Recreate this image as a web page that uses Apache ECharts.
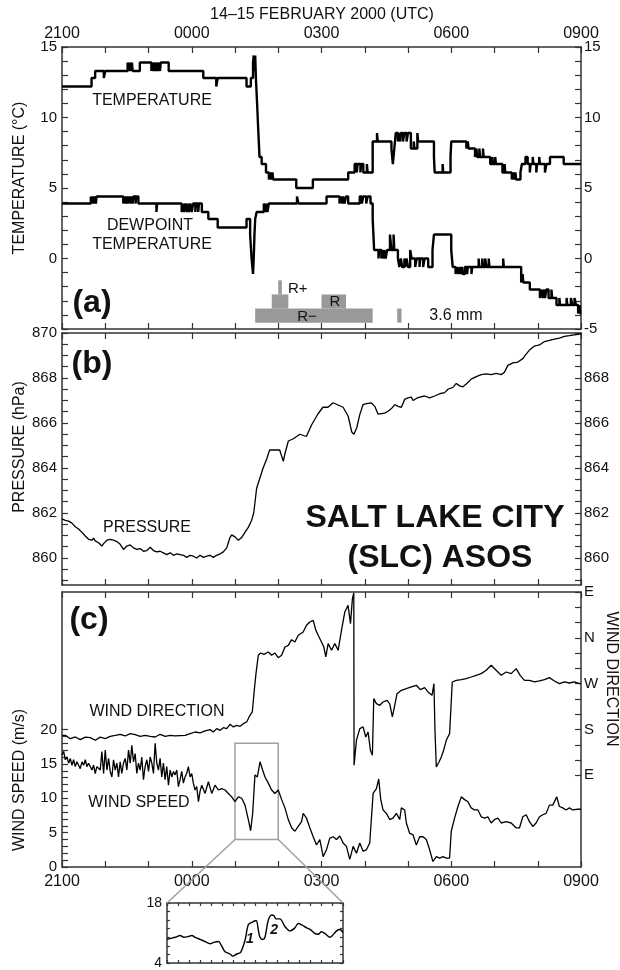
<!DOCTYPE html>
<html>
<head>
<meta charset="utf-8">
<script src="https://cdn.jsdelivr.net/npm/echarts@6/dist/echarts.min.js"></script>
<style>
html,body{margin:0;padding:0;background:#fff}
#chart{width:620px;height:970px}
</style>
</head>
<body>
<div id="chart"></div>
<script>
// Time is minutes after 2100 UTC on 14 Feb 2000 (0..720 = 2100..0900).

// (a) temperature and dewpoint, step changes [minute, degC]
const tempC = [
  [0,12.2],[41,12.8],[46,13.3],[58,12.8],[60,13.3],
  [91,13.9],[92,13.3],[94,13.9],[95,13.3],[97,13.9],[98,13.3],
  [108,13.9],[124,13.3],[125,13.9],[127,13.3],[128,13.9],[130,13.3],[131,13.9],[133,13.3],[134,13.9],[136,13.3],[137,13.9],
  [148,13.3],[196,12.8],[214,12.2],[216,12.8],[256,12.2],[262,12.8],
  [265,13.9],[266,14.4],[267,13.3],[268,14.4],[269,12.8],
  [270,11.7],[271,10.6],[272,9.4],[273,8.3],[274,7.2],[277,6.7],[283,6.1],[287,5.6],[289,6.1],[290,5.6],[292,6.1],[293,5.6],
  [325,5.0],[348,5.6],[397,6.1],[406,6.7],[409,6.1],[410,6.7],[414,6.1],[415,6.7],[418,6.1],[423,6.7],[424,6.1],
  [431,8.3],[437,8.9],[438,8.3],[457,7.8],[459,6.7],[461,7.8],[463,8.9],
  [466,8.3],[467,8.9],[469,8.3],[470,8.9],[473,8.3],[475,8.9],[478,8.3],[480,8.9],
  [484,7.8],[488,8.3],[489,7.8],[493,8.9],[494,8.3],[516,7.2],[517,6.1],[528,6.7],[529,6.1],
  [539,7.2],[540,8.3],[561,7.8],[563,8.3],[564,7.8],
  [573,7.2],[575,7.8],[576,7.2],[579,7.8],[580,7.2],[584,7.8],[585,7.2],
  [594,6.7],[597,7.2],[598,6.7],[601,7.2],[602,6.7],[611,6.1],[614,6.7],[615,6.1],
  [624,5.6],[626,6.1],[627,5.6],[629,6.1],[630,5.6],[636,6.1],[638,6.7],[643,7.2],
  [646,6.7],[649,6.1],[650,6.7],[653,7.2],[654,6.7],[658,6.1],[659,6.7],[662,7.2],[663,6.7],
  [670,6.1],[672,6.7],[677,7.2],[696,6.7],[720,6.7]
];
const dewC = [
  [0,3.9],[40,4.4],[41,3.9],[42,4.4],[44,3.9],[45,4.4],[47,3.9],[48,4.4],
  [85,3.9],[87,4.4],[88,3.9],[90,4.4],[91,3.9],[93,4.4],[95,3.9],[96,4.4],[98,3.9],[99,4.4],[102,3.9],[103,4.4],
  [106,3.9],[131,3.3],[132,3.9],
  [166,3.3],[168,3.9],[169,3.3],[171,3.9],[173,3.3],[174,3.9],[176,3.3],[178,3.9],[180,3.3],[182,3.9],[185,3.3],[186,3.9],[189,3.3],[190,3.9],
  [194,3.3],[203,2.8],[216,2.2],[256,2.8],
  [261,1.7],[263,0],[265,-1.1],[266,0],[267,1.7],[268,2.8],[270,3.3],
  [280,3.9],[282,3.3],[284,3.9],[285,3.3],[287,3.9],[326,4.4],[328,3.9],
  [367,4.4],[385,3.9],[387,4.4],[389,3.9],[390,4.4],[392,3.9],[394,4.4],[397,3.9],
  [413,4.4],[416,3.9],[418,4.4],[422,3.9],[424,4.4],[428,3.9],
  [431,2.8],[432,1.7],[433,0.6],
  [439,0],[440,0.6],[443,0],[444,0.6],[446,0],[447,0.6],[449,0],[451,0.6],
  [455,1.7],[457,0.6],[460,1.7],[461,0.6],
  [466,0],[468,-0.6],[470,0],[472,-0.6],[475,0],[476,-0.6],[478,0],[480,-0.6],
  [483,0.6],[485,0],[490,-0.6],[492,0],[496,-0.6],[497,0],[501,-0.6],[503,0],
  [508,-0.6],[514,0.6],[516,1.7],[540,0.6],[542,-0.6],
  [546,-1.1],[548,-0.6],[550,-1.1],[552,-0.6],[553,-1.1],[555,-0.6],[556,-1.1],[559,-0.6],[562,-1.1],[563,-0.6],[568,-1.1],[569,-0.6],
  [578,0],[579,-0.6],[583,0],[584,-0.6],[587,0],[589,-0.6],[592,0],[593,-0.6],
  [612,0],[613,-0.6],[637,-1.7],[639,-1.1],[640,-1.7],[649,-2.2],
  [663,-2.8],[665,-2.2],[667,-2.8],[669,-2.2],[670,-2.8],[672,-2.2],[675,-2.8],[679,-2.2],[680,-2.8],
  [686,-3.3],[690,-2.8],[691,-3.3],[700,-2.8],[701,-3.3],[706,-2.8],[708,-3.3],[711,-2.8],[713,-3.3],
  [716,-3.9],[718,-3.3],[719,-3.9],[720,-3.9]
];

// Rain periods [start, end] by intensity (R-, R, R+)
const rainLight = [[268,431],[465,471]];
const rainModerate = [[291,314],[360,394]];
const rainHeavy = [[300,305]];

// (b) station pressure [minute, hPa]
const pressHpa = [
  [0,861.74],[4.6,861.67],[9.2,861.64],[13.8,861.55],[18.4,861.39],[23,861.29],[27.7,861.14],[32.3,860.98],[36.9,860.83],[41.5,860.79],
  [43.8,860.88],[46.1,860.76],[50.7,860.68],[55.3,860.53],[57.7,860.64],[62.3,860.79],[66.9,860.83],[71.5,860.79],[76.1,860.73],[80.7,860.61],
  [85.3,860.38],[90,860.53],[94.6,860.58],[99.2,860.45],[103.8,860.38],[108.4,860.42],[113,860.3],[117.7,860.33],[122.3,860.48],[126.9,860.33],
  [131.5,860.27],[136.1,860.3],[140.7,860.23],[145.3,860.15],[150,860.23],[154.6,860.12],[159.2,860.18],[163.8,860.15],[168.4,860.12],[173,860.03],
  [177.7,860.12],[182.3,860.08],[186.9,860.0],[191.5,860.12],[196.1,860.03],[200.8,860.08],[205.4,860.12],[210,860.03],[214.6,860.12],[219.2,860.18],
  [223.8,860.27],[228.5,860.45],[233,860.91],[235.4,861.03],[240,860.94],[244.6,860.79],[249.2,860.91],[253.8,861.14],[258.4,861.36],[263,861.67],
  [266,862.0],[270,863.1],[274,863.5],[279,864.0],[284,864.4],[288,864.8],[295,864.8],[302,864.8],[307,864.3],[309,864.6],
  [314,865.2],[321,865.3],[330,865.5],[339,865.4],[346,865.9],[355,866.4],[362,866.7],[369,866.7],[376,866.9],[383,866.8],
  [390,866.7],[397,866.3],[402,865.6],[405,865.5],[409,865.8],[413,866.36],[417.7,866.82],[422.3,866.86],[429.3,866.89],[431.6,866.97],
  [433.9,866.74],[438.5,866.39],[440.8,866.36],[447.7,866.44],[452.3,866.52],[457,866.64],[461.6,866.82],[466.2,866.74],[470.8,866.7],[475.4,867.05],
  [480,867.12],[484.6,867.15],[487,867.0],[491.6,867.09],[496.2,867.15],[503.1,867.2],[510,867.12],[517,867.2],[523.9,867.3],[530.8,867.35],
  [535.4,867.5],[542.3,867.58],[547,867.76],[551.6,867.65],[556.2,867.61],[560.8,867.73],[567.7,867.95],[574.7,868.06],[581.6,868.15],[588.5,868.18],
  [595.4,868.15],[602.4,868.21],[609.3,868.15],[613.9,868.26],[618.5,868.56],[625.4,868.67],[632.4,868.71],[639.3,868.86],[643.9,869.06],[648.5,869.24],
  [655.4,869.42],[662.4,869.47],[669.3,869.62],[676.2,869.67],[683.1,869.73],[690,869.77],[697,869.85],[703.9,869.88],[710.8,869.92],[717.8,869.95],
  [720,869.97]
];

// (c) wind direction [minute, deg; 90=E 180=S 270=W 360=N 450=E]
const windDirDeg = [
  [0,168.6],[4.6,168.6],[11.5,162],[18.5,165.3],[25.4,160],[32.3,165],[39.2,164],[46.2,158.8],[53.1,165],[60,162],
  [66.9,166.6],[73.9,168.6],[80.8,170.6],[87.7,167.3],[94.6,171.9],[101.5,169.9],[108.5,166.6],[115.4,168.6],[122.3,166.6],[129.2,165.3],
  [136.2,170.6],[143.1,166.6],[150,168.6],[156.9,167.3],[163.9,168],[170.8,168.6],[177.7,171.9],[184.6,175.1],[191.6,173.2],[198.5,177.1],
  [205.4,179.7],[210,175.1],[214.6,181.7],[219.3,178.4],[223.9,183.6],[228.5,181.7],[233.1,190.2],[237.7,185],[242.3,188.2],[247,186.3],
  [251.6,191.5],[256.2,194.8],[260.8,207.9],[264,214.4],[266.3,250.4],[269.1,289.7],[272.3,325.7],[275.6,330.2],[280.2,327.6],[286.2,332.2],
  [290.8,325.7],[295.4,330.2],[300,320.9],[304.7,325.7],[309.3,342],[313.9,345.3],[318.5,356.4],[323.1,351.8],[327.7,365],[330,368.2],
  [334.6,371.5],[339.2,384.6],[343.8,391.1],[348.5,394.4],[352.2,374.7],[355.4,365],[360,351.8],[363.2,342],[366,322.4],[369.2,348.6],
  [373.9,335.5],[378.5,348.6],[383.1,335.5],[387.7,374.7],[392.3,410.7],[396.9,423.8],[400.2,387.8],[402.9,436.9],[404.8,448],[405.2,109.7],
  [408.5,158.8],[413.1,181.7],[417.7,185],[421.4,165.3],[424.6,175.1],[427.9,139.1],[430.6,129.3],[432.5,240.6],[436.2,230.8],[440.8,227.5],
  [445.4,234],[450.9,237.3],[454.6,230.8],[458.3,204.6],[461.6,227.5],[464.8,250.4],[470.8,257],[477.7,260.2],[484.6,263.5],[491.6,266.8],
  [497.1,258.3],[503.1,262.2],[507.7,253.7],[513.3,247.1],[516,270],[517.4,178.4],[519.3,106.4],[523,116.2],[526.2,126],[529.4,139.1],
  [533.1,158.8],[537.7,171.9],[541.4,273.3],[547,276.6],[553.9,277.9],[560.8,279.9],[567.7,283.1],[574.6,286.4],[581.6,289.7],[588.5,296.2],
  [595.4,306],[602.3,296.2],[609.3,286.4],[616.2,292.9],[623.1,289.7],[630,299.5],[635.6,286.4],[641.6,276.6],[648.5,276.6],[655.4,273.3],
  [662.4,275.3],[669.3,277.9],[676.2,281.9],[683.1,275.3],[690,270],[697,273.3],[703.9,271.3],[710.8,273.3],[717.7,270],[720,270]
];

// (c) wind speed [minute, m/s]
const windSpeed = [
  [0,16.3],[2.3,16.8],[4.6,15.6],[6.9,16.0],[9.2,15.1],[11.5,15.8],[13.8,14.8],[16.1,15.6],[18.4,14.6],[20.7,15.3],
  [23,15.1],[25.3,14.3],[27.7,15.3],[30,14.8],[32.3,15.6],[34.6,14.6],[36.9,15.1],[39.2,15.3],[41.5,14.1],[43.8,14.8],
  [46.1,13.6],[48.4,14.6],[50.7,14.8],[53,14.1],[55.3,16.8],[57.7,13.6],[60,17.0],[62.3,14.1],[64.6,15.8],[66.9,13.9],
  [69.2,13.1],[71.5,15.6],[73.8,14.1],[76.1,15.1],[78.4,13.1],[80.7,15.3],[83,13.6],[85.3,15.1],[87.7,15.8],[90,14.1],
  [92.3,17.0],[94.6,15.1],[96.9,17.7],[99.2,15.3],[101.5,16.5],[103.8,13.6],[106.1,15.1],[108.4,14.1],[110.7,16.0],[113,12.7],
  [115.3,14.6],[117.7,15.6],[120,13.9],[122.3,16.0],[124.6,15.1],[126.9,13.6],[129.2,18.0],[131.5,15.1],[133.8,14.1],[136.1,15.8],
  [138.4,13.1],[140.7,15.1],[143,12.7],[145.3,14.6],[147.7,11.9],[150,14.1],[152.3,13.1],[154.6,13.9],[156.9,13.4],[159.2,14.1],
  [161.5,11.7],[163.8,12.7],[166.1,13.9],[168.4,12.2],[170.7,13.1],[173,13.6],[175.3,14.6],[177.7,13.1],[180,13.6],[182.2,12.2],
  [184.6,11.2],[186.9,11.7],[189.3,9.5],[191.5,11.0],[193.9,11.9],[198.5,10.7],[203.1,12.4],[207.7,10.7],
  [212.3,11.9],[217,11.2],[221.6,11.4],[226.2,11.2],[230.8,10.7],[235.4,10.2],[240,9.5],[244.6,10.2],[249.3,10.0],[253.9,9.0],
  [258.5,6.9],[261.7,5.3],[264.5,7.8],[267.7,13.4],[271,13.1],[274.7,15.3],[278.3,14.1],[281.6,13.1],[286.2,12.2],[290.8,11.2],
  [295.4,10.7],[300,11.2],[304.7,9.8],[309.3,8.6],[313.9,6.9],[318.5,5.7],[323.1,5.2],[327.7,5.9],[332.3,6.6],[334.6,7.8],
  [339.2,7.1],[343.8,5.7],[348.5,4.4],[353.1,3.2],[357.7,4.0],[362.3,1.5],[366.9,2.5],[371.5,4.2],[376.2,4.4],[380.8,4.0],
  [385.4,4.5],[390,3.5],[394.6,3.0],[399.2,1.1],[403.9,3.0],[408.5,2.0],[413.1,3.5],[417.7,2.3],[422.3,2.5],[426.9,3.5],
  [431.6,10.7],[436.2,11.4],[439.4,12.8],[442.2,9.8],[445.4,8.3],[450,7.8],[454.6,6.9],[459.2,7.1],[463.9,7.8],[468.5,6.9],
  [470.8,8.6],[475.4,8.3],[477.7,6.4],[482.3,4.9],[486.9,4.7],[491.6,3.2],[496.2,4.4],[500.8,4.4],[505.4,4.0],[510,2.5],
  [514.6,0.8],[519.3,1.5],[523.9,1.3],[528.5,1.5],[533.1,1.3],[537.7,1.3],[540,5.2],[544.6,7.1],[549.3,8.8],[553.9,10.2],
  [558.5,9.8],[563.1,9.5],[567.7,8.6],[572.3,8.3],[577,8.3],[581.6,7.3],[586.2,7.1],[590.8,7.3],[595.4,6.4],[600,6.9],
  [604.7,7.1],[609.3,6.4],[616.2,6.6],[623.1,6.4],[630,5.7],[634.7,5.7],[639.3,7.3],[643.9,7.6],[648.5,6.6],[653.1,5.9],
  [657.7,6.4],[662.4,7.3],[667,7.6],[671.6,7.8],[676.2,9.0],[680.8,9.0],[686.4,10.2],[690,8.8],[694.7,8.6],[699.3,8.3],
  [703.9,8.6],[708.5,8.3],[715.4,8.4],[720,8.4]
];

// Inset: wind speed 0100-0200 UTC at finer resolution [minute, m/s]
const insetSpan = [240, 300];
const insetRange = [4, 18];
const insetSpeed = [
  [240,9.5],[241.1,9.7],[242.8,10.0],[244.5,10.4],[245.7,10.0],[246.8,10.1],[248.5,10.4],[249.6,10.0],[251.3,9.5],[253,9.0],
  [254.7,8.5],[255.9,8.8],[257.6,9.0],[258.7,7.9],[259.8,6.6],[261.5,6.1],[262.4,5.6],[263.8,6.1],[265.1,6.5],[266.6,9.3],
  [267.7,12.9],[268.9,13.5],[270.4,13.9],[271.1,11.8],[271.7,10.0],[272.6,9.5],[273.4,10.0],[274.5,13.9],[275.7,15.2],[276.5,15.0],
  [277.1,14.3],[278.5,14.3],[280.2,12.5],[281.9,11.5],[283.6,12.2],[284.7,13.2],[285.9,12.9],[287.6,12.2],[288.9,11.8],[290.4,10.9],
  [291.5,10.7],[292.7,11.3],[293.8,10.9],[295.5,10.0],[296.4,10.4],[297.8,11.5],[298.9,11.8],[300,11.1]
];
const insetMarks = [['1', 268.3, 9.6], ['2', 276.5, 11.6]];

// Tick and label values
const hourTicks = [0,60,120,180,240,300,360,420,480,540,600,660,720];
const timeLabels = [0,180,360,540,720];
const tempLabelsLeft = [0,5,10,15];
const tempLabelsRight = [-5,0,5,10,15];
const pressLabelsLeft = [860,862,864,866,868,870];
const pressLabelsRight = [860,862,864,866,868];
const speedLabels = [0,5,10,15,20];
const dirLabels = [90,180,270,360,450];
const dirNames = {90:'E',180:'S',270:'W',360:'N',450:'E'};

function steps(a, b, s) { const r = []; for (let v = a; v <= b + 1e-9; v += s) r.push(+v.toFixed(4)); return r; }
function hhmm(t) { const h = (21 + Math.round(t / 60)) % 24; return String(h).padStart(2, '0') + '00'; }

const FONT = "'Liberation Sans', Arial, Helvetica, sans-serif";
const INK = '#111';
const LINE = { color: '#333', width: 1.5 };

function xAx(grid, position, min, max, ticks, labels, tickLen) {
  return {
    gridIndex: grid, type: 'value', position, min, max,
    axisLine: { show: true, onZero: false, lineStyle: LINE },
    axisTick: { show: true, inside: true, length: tickLen || 6, customValues: ticks, lineStyle: { color: '#333', width: 1.2 } },
    axisLabel: labels ? { show: true, customValues: labels, formatter: hhmm, fontSize: 16, color: INK, fontFamily: FONT, margin: position === 'top' ? 5 : 7 } : { show: false },
    splitLine: { show: false }
  };
}
function yAx(grid, position, min, max, ticks, labels, fmt, tickLen, fontSize) {
  return {
    gridIndex: grid, type: 'value', position, min, max,
    axisLine: { show: true, onZero: false, lineStyle: LINE },
    axisTick: { show: true, inside: true, length: tickLen || 6, customValues: ticks, lineStyle: { color: '#333', width: 1.2 } },
    axisLabel: labels ? { show: true, customValues: labels, formatter: fmt || (v => String(v)), fontSize: fontSize || 15, color: INK, fontFamily: FONT, margin: position === 'left' ? 5 : 3 } : { show: false },
    splitLine: { show: false }
  };
}

function txt(id, text, x, y, size, opts) {
  const o = opts || {};
  return {
    id, type: 'text', x, y, rotation: o.rotation || 0, silent: true, z: 50,
    style: {
      text, fill: INK, fontFamily: FONT, fontSize: size, fontWeight: o.bold ? 'bold' : 'normal',
      fontStyle: o.italic ? 'italic' : 'normal',
      textAlign: o.align || 'center', align: o.align || 'center',
      textVerticalAlign: 'middle', verticalAlign: 'middle'
    }
  };
}

const rainRows = [].concat(
  rainLight.map(p => [p[0], p[1], 0]),
  rainModerate.map(p => [p[0], p[1], 1]),
  rainHeavy.map(p => [p[0], p[1], 2])
);

const chart = echarts.init(document.getElementById('chart'), null, { renderer: 'canvas' });

const option = {
  animation: false,
  backgroundColor: '#fff',
  grid: [
    { left: 62, right: 39, top: 47, height: 282 },
    { left: 62, right: 39, top: 333, height: 252 },
    { left: 62, right: 39, top: 592, height: 275 },
    { left: 167, width: 176, top: 903, height: 65 }
  ],
  xAxis: [
    xAx(0, 'bottom', 0, 720, hourTicks, null),
    xAx(0, 'top', 0, 720, hourTicks, timeLabels),
    xAx(1, 'bottom', 0, 720, hourTicks, null),
    xAx(1, 'top', 0, 720, hourTicks, null),
    xAx(2, 'bottom', 0, 720, hourTicks, timeLabels),
    xAx(2, 'top', 0, 720, hourTicks, null),
    xAx(3, 'bottom', insetSpan[0], insetSpan[1], steps(insetSpan[0], insetSpan[1], 3.75), null, 3),
    xAx(3, 'top', insetSpan[0], insetSpan[1], steps(insetSpan[0], insetSpan[1], 3.75), null, 3)
  ],
  yAxis: [
    yAx(0, 'left', -5, 15, steps(-5, 15, 1), tempLabelsLeft),
    yAx(0, 'right', -5, 15, steps(-5, 15, 1), tempLabelsRight),
    yAx(1, 'left', 858.8, 870, steps(859, 870, 0.5), pressLabelsLeft),
    yAx(1, 'right', 858.8, 870, steps(859, 870, 0.5), pressLabelsRight),
    yAx(2, 'left', 0, 40, steps(0, 20, 1), speedLabels),
    yAx(2, 'right', -90, 450, steps(90, 450, 30), dirLabels, v => dirNames[v] || ''),
    yAx(3, 'left', insetRange[0], insetRange[1], steps(insetRange[0], insetRange[1], 2), insetRange, null, 3, 14),
    yAx(3, 'right', insetRange[0], insetRange[1], steps(insetRange[0], insetRange[1], 2), null, null, 3)
  ],
  series: [
    {
      name: 'Temperature', type: 'line', xAxisIndex: 0, yAxisIndex: 0, data: tempC, step: 'end',
      symbol: 'none', lineStyle: { color: '#000', width: 2.4 }, z: 5
    },
    {
      name: 'Dewpoint', type: 'line', xAxisIndex: 0, yAxisIndex: 0, data: dewC, step: 'end',
      symbol: 'none', lineStyle: { color: '#000', width: 2.4 }, z: 5
    },
    {
      name: 'Rain', type: 'custom', xAxisIndex: 0, yAxisIndex: 0, data: rainRows,
      encode: { x: [0, 1], y: 2 }, silent: true, z: 3,
      renderItem: (params, api) => {
        const row = api.value(2);
        const base = -4.55 + row * 1.0;
        const p0 = api.coord([api.value(0), base + 1.0]);
        const p1 = api.coord([api.value(1), base]);
        return { type: 'rect', shape: { x: p0[0], y: p0[1], width: p1[0] - p0[0], height: p1[1] - p0[1] }, style: { fill: '#999' } };
      }
    },
    {
      name: 'Pressure', type: 'line', xAxisIndex: 2, yAxisIndex: 2, data: pressHpa,
      symbol: 'none', lineStyle: { color: '#000', width: 1.3 }
    },
    {
      name: 'Wind direction', type: 'line', xAxisIndex: 4, yAxisIndex: 5, data: windDirDeg,
      symbol: 'none', lineStyle: { color: '#000', width: 1.3 }
    },
    {
      name: 'Wind speed', type: 'line', xAxisIndex: 4, yAxisIndex: 4, data: windSpeed,
      symbol: 'none', lineStyle: { color: '#000', width: 1.3 },
      markArea: {
        silent: true,
        itemStyle: { color: 'rgba(0,0,0,0)', borderColor: '#a0a0a0', borderWidth: 1.5 },
        label: { show: false },
        data: [[{ coord: [insetSpan[0], insetRange[0]] }, { coord: [insetSpan[1], insetRange[1]] }]]
      }
    },
    {
      name: 'Wind speed detail', type: 'line', xAxisIndex: 6, yAxisIndex: 6, data: insetSpeed,
      symbol: 'none', smooth: 0.3, lineStyle: { color: '#000', width: 1.4 },
      markPoint: {
        silent: true, symbol: 'circle', symbolSize: 0,
        label: { show: true, position: 'inside', formatter: p => p.name, fontSize: 14, fontWeight: 'bold', fontStyle: 'italic', color: INK, fontFamily: FONT },
        data: insetMarks.map(m => ({ name: m[0], coord: [m[1], m[2]] }))
      }
    }
  ],
  graphic: {
    elements: [
      txt('title', '14–15 FEBRUARY 2000 (UTC)', 322, 15, 16),
      txt('nameT', 'TEMPERATURE (°C)', 20, 178, 16, { rotation: Math.PI / 2 }),
      txt('nameP', 'PRESSURE (hPa)', 20, 447, 16, { rotation: Math.PI / 2 }),
      txt('nameS', 'WIND SPEED (m/s)', 20, 780, 16, { rotation: Math.PI / 2 }),
      txt('nameD', 'WIND DIRECTION', 611, 679, 16, { rotation: -Math.PI / 2 }),
      txt('pa', '(a)', 92, 303, 32, { bold: true }),
      txt('pb', '(b)', 92, 364, 32, { bold: true }),
      txt('pc', '(c)', 89, 620, 32, { bold: true }),
      txt('lt', 'TEMPERATURE', 152, 101, 16),
      txt('ld1', 'DEWPOINT', 150, 226, 16),
      txt('ld2', 'TEMPERATURE', 152, 245, 16),
      txt('rplus', 'R+', 288, 289, 15, { align: 'left' }),
      txt('rmod', 'R', 335, 302, 15),
      txt('rlight', 'R−', 307, 317, 15),
      txt('rtotal', '3.6 mm', 456, 316, 16),
      txt('lp', 'PRESSURE', 147, 528, 16),
      txt('slc1', 'SALT LAKE CITY', 435, 518, 32, { bold: true }),
      txt('slc2', '(SLC) ASOS', 440, 558, 32, { bold: true }),
      txt('lwd', 'WIND DIRECTION', 157, 712, 16),
      txt('lws', 'WIND SPEED', 139, 803, 16)
    ]
  }
};

chart.setOption(option);

// Leader lines from the highlighted box in (c) to the inset frame
const speedIdx = 5, insetIdx = 6;
const b0 = chart.convertToPixel({ seriesIndex: speedIdx }, [insetSpan[0], insetRange[0]]);
const b1 = chart.convertToPixel({ seriesIndex: speedIdx }, [insetSpan[1], insetRange[0]]);
const i0 = chart.convertToPixel({ seriesIndex: insetIdx }, [insetSpan[0], insetRange[1]]);
const i1 = chart.convertToPixel({ seriesIndex: insetIdx }, [insetSpan[1], insetRange[1]]);
chart.setOption({
  graphic: {
    elements: [
      { id: 'leadL', type: 'line', silent: true, z: 40, shape: { x1: b0[0], y1: b0[1], x2: i0[0], y2: i0[1] }, style: { stroke: '#a0a0a0', lineWidth: 1.5 } },
      { id: 'leadR', type: 'line', silent: true, z: 40, shape: { x1: b1[0], y1: b1[1], x2: i1[0], y2: i1[1] }, style: { stroke: '#a0a0a0', lineWidth: 1.5 } }
    ]
  }
});
</script>
</body>
</html>
